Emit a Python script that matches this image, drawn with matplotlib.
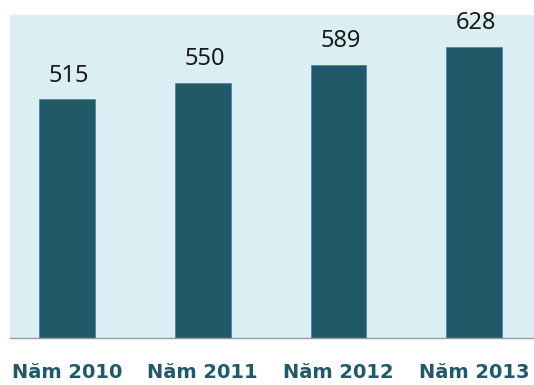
import matplotlib.pyplot as plt

# data
years = ["Năm 2010", "Năm 2011", "Năm 2012", "Năm 2013"]
values = [515, 550, 589, 628]

bar_color = "#215968"
bg_color = "#DAEEF3"

fig = plt.figure(figsize=(5.34, 3.85), dpi=100)
ax = fig.add_axes([10 / 534, 47 / 385, 1 - 10 / 534, 323 / 385])
ax.set_facecolor(bg_color)

x = list(range(len(years)))
bars = ax.bar(x, values, width=0.41, color=bar_color,
              edgecolor="#4F81BD", linewidth=0.6)

# value labels above each bar
for xi, v in zip(x, values):
    ax.annotate(str(v), (xi, v), xytext=(1.5, 12.5), textcoords="offset points",
                ha="center", va="baseline", fontsize=17,
                family="Noto Sans", color="#1a1a1a")

ax.set_xlim(-0.42, 3.44)
ax.set_ylim(0, 696)

ax.set_xticks(x)
ax.set_xticklabels(years, fontsize=14, fontweight="bold", color=bar_color,
                   family="DejaVu Sans")
ax.tick_params(axis="x", length=0, pad=18)
ax.set_yticks([])

for side in ["top", "right", "left"]:
    ax.spines[side].set_visible(False)
ax.spines["bottom"].set_color("#999999")
ax.spines["bottom"].set_linewidth(1.0)

fig.savefig("out.png", dpi=100)
